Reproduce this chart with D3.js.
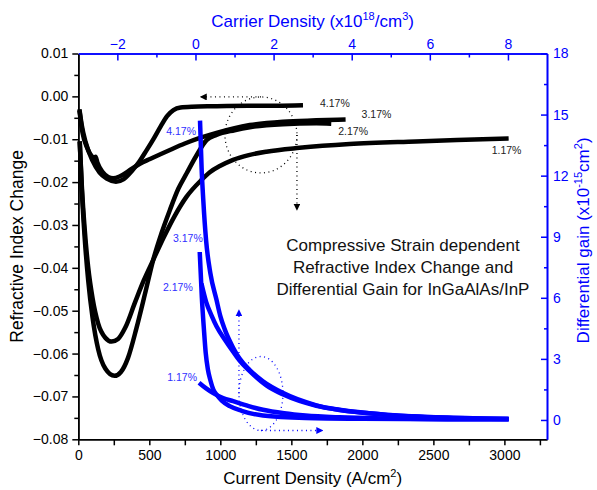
<!DOCTYPE html>
<html>
<head>
<meta charset="utf-8">
<script src="https://cdn.jsdelivr.net/npm/d3@7"></script>
<style>
  body { margin: 0; background: #fff; }
  svg { font-family: "Liberation Sans", Arial, sans-serif; }
  .tick text { font-size: 14px; }
</style>
</head>
<body>
<div id="chart"></div>
<script>
// Chart data

// black curves: refractive index change vs current density [J, dn]
var ri117 = [[10,-0.0105],[25,-0.021],[45,-0.031],[70,-0.040],[100,-0.047],[140,-0.0530],[190,-0.0563],[235,-0.0572],[280,-0.0566],[330,-0.0540],[400,-0.0480],[460,-0.0430],[527,-0.0382],[600,-0.0330],[680,-0.0278],[760,-0.0235],[867,-0.0195],[926,-0.0177],[1000,-0.0162],[1090,-0.0148],[1200,-0.0137],[1324,-0.0129],[1558,-0.0120],[1910,-0.0111],[2378,-0.0105],[2847,-0.0100],[3030,-0.0098]];
var ri217 = [[10,-0.0105],[25,-0.022],[45,-0.033],[70,-0.043],[100,-0.0515],[140,-0.0590],[190,-0.0635],[255,-0.0652],[300,-0.0643],[350,-0.0610],[410,-0.0540],[470,-0.0460],[527,-0.0382],[585,-0.0320],[645,-0.0265],[705,-0.0215],[762,-0.0180],[832,-0.0138],[903,-0.0102],[973,-0.0090],[1100,-0.0079],[1207,-0.0072],[1441,-0.0065],[1676,-0.0063],[1781,-0.0064]];
var ri317 = [[8,-0.0033],[30,-0.0085],[60,-0.0118],[100,-0.0142],[112,-0.0146],[122,-0.0141],[135,-0.0155],[170,-0.0176],[210,-0.0188],[245,-0.0191],[290,-0.0187],[350,-0.0175],[434,-0.0157],[505,-0.0146],[645,-0.0125],[750,-0.0110],[856,-0.0097],[973,-0.0085],[1100,-0.0074],[1207,-0.0067],[1441,-0.0059],[1676,-0.0056],[1882,-0.0054]];
var ri417 = [[8,-0.0030],[25,-0.0068],[50,-0.0105],[100,-0.0150],[150,-0.0178],[200,-0.0192],[265,-0.0199],[320,-0.0193],[380,-0.0173],[430,-0.0152],[480,-0.0126],[530,-0.0099],[580,-0.0070],[625,-0.0046],[670,-0.0032],[720,-0.0026],[800,-0.0024],[950,-0.0023],[1200,-0.0022],[1400,-0.0022],[1582,-0.0021]];

// blue curves: differential gain (x1e-15 cm2) vs current density [J, g]
var dg117 = [[850,1.83],[900,1.55],[950,1.32],[1019,1.08],[1090,0.92],[1200,0.68],[1300,0.5],[1450,0.33],[1600,0.22],[1839,0.13],[2200,0.07],[2600,0.04],[3030,0.03]];
var dg217 = [[867,6.7],[900,5.8],[940,5.1],[973,4.6],[1031,3.95],[1090,3.35],[1137,2.9],[1207,2.4],[1324,1.7],[1443,1.25],[1676,0.7],[1839,0.5],[2144,0.27],[2600,0.11],[3030,0.05]];
var dg317 = [[855,8.25],[870,6.0],[885,4.4],[897,3.3],[912,2.5],[930,1.95],[950,1.5],[973,1.25],[1010,0.95],[1066,0.68],[1150,0.45],[1300,0.22],[1600,0.1],[2000,0.06],[3030,0.03]];
var dg417 = [[857,14.7],[868,12.4],[880,10.8],[900,8.8],[930,7.2],[973,5.9],[1000,5.1],[1031,4.45],[1090,3.55],[1137,3.0],[1207,2.45],[1300,1.9],[1443,1.32],[1676,0.72],[2144,0.27],[2600,0.12],[3030,0.06]];

var strainLabels = ["1.17%", "2.17%", "3.17%", "4.17%"];

// tick values
var xTicks = [0, 500, 1000, 1500, 2000, 2500, 3000];
var xMinor = [250, 750, 1250, 1750, 2250, 2750, 3250];
var topTicks = [-2, 0, 2, 4, 6, 8];
var topMinor = [-1, 1, 3, 5, 7];
var leftTicks = [-0.08, -0.07, -0.06, -0.05, -0.04, -0.03, -0.02, -0.01, 0.00, 0.01];
var leftMinor = [-0.075, -0.065, -0.055, -0.045, -0.035, -0.025, -0.015, -0.005, 0.005];
var rightTicks = [0, 3, 6, 9, 12, 15, 18];
var rightMinor = [1.5, 4.5, 7.5, 10.5, 13.5, 16.5];

// Setup
var width = 597, height = 490;
var plotL = 78.3, plotR = 547, plotT = 53.5, plotB = 439.3;
var blue = "#0000ff";

var svg = d3.select("#chart").append("svg")
    .attr("width", width)
    .attr("height", height);

var xScale = d3.scaleLinear().domain([0, 3300]).range([plotL, plotR]);
var xTop = d3.scaleLinear().domain([-3, 9]).range([plotL, plotR]);
var yLeft = d3.scaleLinear().domain([-0.08, 0.01]).range([plotB, plotT]);
var yRight = d3.scaleLinear().domain([-0.95, 18]).range([plotB, plotT]);

function styleAxis(g, color) {
    g.select(".domain").attr("stroke", color).attr("stroke-width", 1.6);
    g.selectAll(".tick line").attr("stroke", color).attr("stroke-width", 1.5);
    g.selectAll(".tick text").attr("fill", color);
}

// bottom axis
svg.append("g").attr("transform", `translate(0,${plotB})`)
    .call(d3.axisBottom(xScale).tickValues(xTicks).tickSize(6).tickSizeOuter(0).tickPadding(5).tickFormat(d3.format("d")))
    .call(styleAxis, "#000");
svg.append("g").attr("transform", `translate(0,${plotB})`)
    .call(d3.axisBottom(xScale).tickValues(xMinor).tickSize(6).tickSizeOuter(0).tickFormat(""))
    .call(styleAxis, "#000");

// left axis
svg.append("g").attr("transform", `translate(${plotL},0)`)
    .call(d3.axisLeft(yLeft).tickValues(leftTicks).tickSize(6).tickSizeOuter(0).tickPadding(4).tickFormat(d3.format(".2f")))
    .call(styleAxis, "#000");
svg.append("g").attr("transform", `translate(${plotL},0)`)
    .call(d3.axisLeft(yLeft).tickValues(leftMinor).tickSize(4).tickSizeOuter(0).tickFormat(""))
    .call(styleAxis, "#000");

// top axis (ticks inward)
svg.append("g").attr("transform", `translate(0,${plotT})`)
    .call(d3.axisTop(xTop).tickValues(topTicks).tickSize(-7).tickSizeOuter(0).tickPadding(5).tickFormat(d3.format("d")))
    .call(styleAxis, blue);
svg.append("g").attr("transform", `translate(0,${plotT})`)
    .call(d3.axisTop(xTop).tickValues(topMinor).tickSize(-4).tickSizeOuter(0).tickFormat(""))
    .call(styleAxis, blue);

// right axis (ticks inward)
svg.append("g").attr("transform", `translate(${plotR},0)`)
    .call(d3.axisRight(yRight).tickValues(rightTicks).tickSize(-6).tickSizeOuter(0).tickPadding(6))
    .call(styleAxis, blue);
svg.append("g").attr("transform", `translate(${plotR},0)`)
    .call(d3.axisRight(yRight).tickValues(rightMinor).tickSize(-3).tickSizeOuter(0).tickFormat(""))
    .call(styleAxis, blue);

// axis titles
var bTitle = svg.append("text")
    .attr("x", (plotL + plotR) / 2).attr("y", 484)
    .attr("text-anchor", "middle").attr("font-size", 17);
bTitle.append("tspan").text("Current Density (A/cm");
bTitle.append("tspan").attr("font-size", 11).attr("dy", -7).text("2");
bTitle.append("tspan").attr("dy", 7).text(")");

svg.append("text")
    .attr("transform", `translate(23,${(plotT + plotB) / 2}) rotate(-90)`)
    .attr("text-anchor", "middle").attr("font-size", 17.5)
    .text("Refractive Index Change");

var tTitle = svg.append("text")
    .attr("x", (plotL + plotR) / 2).attr("y", 27)
    .attr("text-anchor", "middle").attr("font-size", 17).attr("fill", blue);
tTitle.append("tspan").text("Carrier Density (x10");
tTitle.append("tspan").attr("font-size", 11).attr("dy", -7).text("18");
tTitle.append("tspan").attr("dy", 7).text("/cm");
tTitle.append("tspan").attr("font-size", 11).attr("dy", -7).text("3");
tTitle.append("tspan").attr("dy", 7).text(")");

var rTitle = svg.append("text")
    .attr("transform", `translate(589,${(plotT + plotB) / 2 - 6}) rotate(-90)`)
    .attr("text-anchor", "middle").attr("font-size", 17).attr("fill", blue);
rTitle.append("tspan").text("Differential gain (x10");
rTitle.append("tspan").attr("font-size", 11).attr("dy", -7).text("-15");
rTitle.append("tspan").attr("dy", 7).text("cm");
rTitle.append("tspan").attr("font-size", 11).attr("dy", -7).text("2");
rTitle.append("tspan").attr("dy", 7).text(")");

// curves
var blackLine = d3.line()
    .x(function(d) { return xScale(d[0]); })
    .y(function(d) { return yLeft(d[1]); })
    .curve(d3.curveMonotoneX);

var blueLine = d3.line()
    .x(function(d) { return xScale(d[0]); })
    .y(function(d) { return yRight(d[1]); })
    .curve(d3.curveMonotoneX);

var riSeries = [ri117, ri217, ri317, ri417];
var dgSeries = [dg117, dg217, dg317, dg417];

svg.append("g").selectAll("path")
    .data(riSeries).enter()
    .append("path")
    .attr("d", blackLine)
    .attr("fill", "none")
    .attr("stroke", "#000")
    .attr("stroke-width", 4.5);

svg.append("g").selectAll("path")
    .data(dgSeries).enter()
    .append("path")
    .attr("d", blueLine)
    .attr("fill", "none")
    .attr("stroke", blue)
    .attr("stroke-width", 4.5);

// strain labels: black next to the curve end, blue next to the curve start
var blackOffsets = [[-17, 16], [7, 11.5], [16, -1.5], [17, 2]];
svg.append("g").selectAll("text")
    .data(riSeries).enter()
    .append("text")
    .attr("x", function(d, i) { return xScale(d[d.length - 1][0]) + blackOffsets[i][0]; })
    .attr("y", function(d, i) { return yLeft(d[d.length - 1][1]) + blackOffsets[i][1]; })
    .attr("font-size", 10.5)
    .attr("fill", "#222")
    .text(function(d, i) { return strainLabels[i]; });

var blueOffsets = [[-2, -1.5], [-8.7, 7.5], [3, -10], [-4, 14]];
svg.append("g").selectAll("text")
    .data(dgSeries).enter()
    .append("text")
    .attr("x", function(d, i) { return xScale(d[0][0]) + blueOffsets[i][0]; })
    .attr("y", function(d, i) { return yRight(d[0][1]) + blueOffsets[i][1]; })
    .attr("text-anchor", "end")
    .attr("font-size", 10.5)
    .attr("fill", "#3030ff")
    .text(function(d, i) { return strainLabels[i]; });

// note text
var noteLines = ["Compressive Strain dependent", "Refractive Index Change and", "Differential Gain for InGaAlAs/InP"];
svg.append("g").selectAll("text")
    .data(noteLines).enter()
    .append("text")
    .attr("x", 403)
    .attr("y", function(d, i) { return 251 + i * 22; })
    .attr("text-anchor", "middle")
    .attr("font-size", 17)
    .attr("fill", "#111")
    .text(function(d) { return d; });

// dotted rotation hints
var defs = svg.append("defs");
function arrowMarker(id, color) {
    defs.append("marker")
        .attr("id", id)
        .attr("viewBox", "0 0 10 10")
        .attr("refX", 9).attr("refY", 5)
        .attr("markerWidth", 7).attr("markerHeight", 7)
        .attr("markerUnits", "userSpaceOnUse")
        .attr("orient", "auto")
        .append("path")
        .attr("d", "M0,0 L10,5 L0,10 Z")
        .attr("fill", color);
}
arrowMarker("arrBlack", "#000");
arrowMarker("arrBlue", blue);

function hint(cx, cy, rx, ry, color, marker, arrows) {
    var g = svg.append("g")
        .attr("fill", "none")
        .attr("stroke", color)
        .attr("stroke-width", 1.3)
        .attr("stroke-dasharray", "1,3.5");
    g.append("ellipse")
        .attr("cx", cx).attr("cy", cy)
        .attr("rx", rx).attr("ry", ry);
    arrows.forEach(function(a) {
        g.append("line")
            .attr("x1", a[0]).attr("y1", a[1])
            .attr("x2", a[2]).attr("y2", a[3])
            .attr("marker-end", `url(#${marker})`);
    });
}

// black: around the index change curves
var bcx = xScale(1286), bcy = yLeft(-0.0090);
hint(bcx, bcy, 36, 38, "#000", "arrBlack", [
    [bcx, bcy - 38, xScale(860), bcy - 38],
    [bcx + 36, bcy, bcx + 36, yLeft(-0.0265)]
]);

// blue: around the gain curves
var gcx = xScale(1286), gcy = yRight(1.3);
hint(gcx, gcy, 22, 37, blue, "arrBlue", [
    [gcx - 22, gcy, gcx - 22, yRight(5.4)],
    [gcx, gcy + 37, xScale(1720), gcy + 37]
]);
</script>
</body>
</html>
